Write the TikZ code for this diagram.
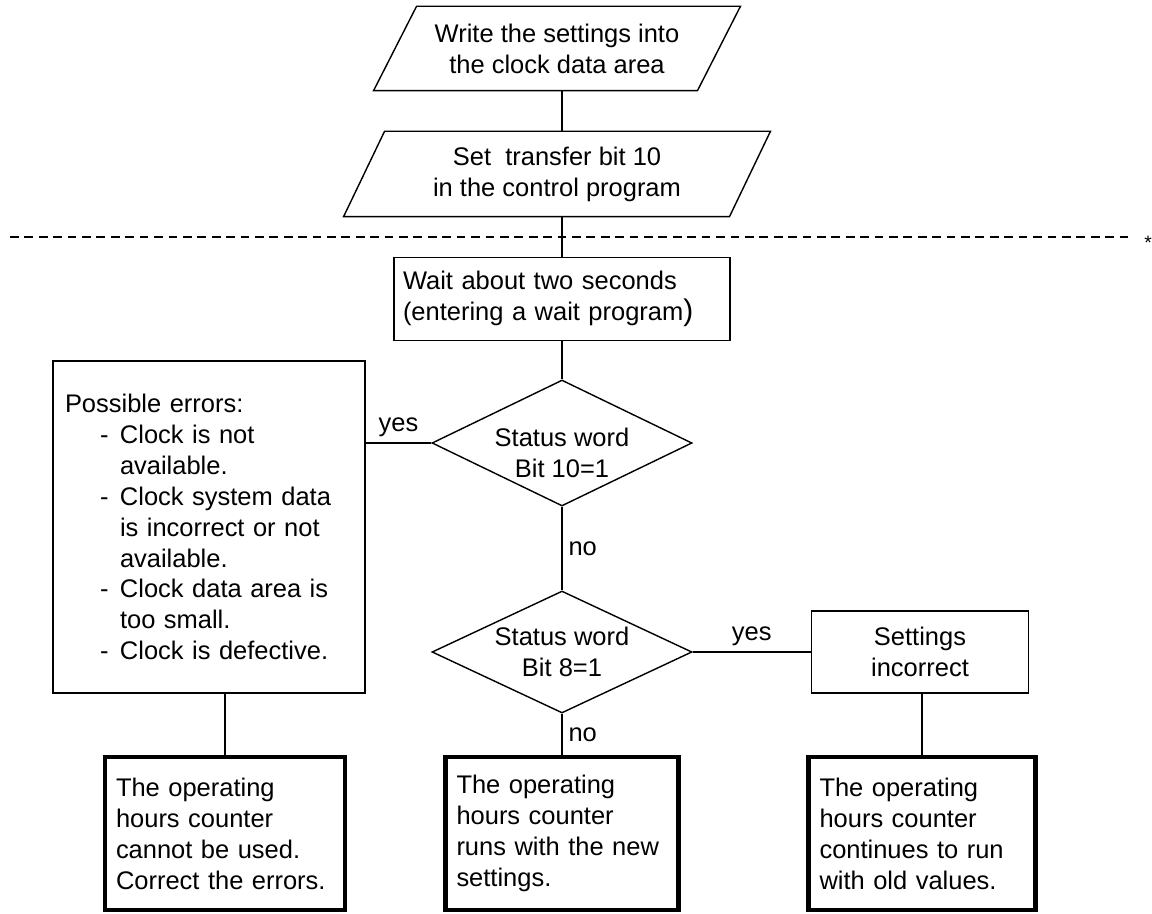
\documentclass[tikz,border=0pt]{standalone}
\usepackage{fontspec}
\setmainfont{Liberation Sans}
\usepackage{tikz}
\usetikzlibrary{shapes.geometric}
\tikzset{
  io/.style={rectangle, align=center, inner sep=0pt},
  proc/.style={rectangle, draw, inner sep=0pt},
  decide/.style={diamond, draw, aspect=2, inner sep=0pt, align=center, minimum width=5.2cm},
  result/.style={rectangle, draw, line width=2.3pt, align=left, inner xsep=0.22cm, minimum height=3.06cm}
}
\newcommand{\errdash}{\hspace*{0.7cm}\makebox[0.4cm][l]{-}}
\newcommand{\errgap}{\hspace*{1.1cm}}
\newcommand{\slantframe}[2]{\draw ([xshift=-#2]#1.south west) -- ([xshift=#2]#1.north west) -- ([xshift=#2]#1.north east) -- ([xshift=-#2]#1.south east) -- cycle;}

\begin{document}
\begin{tikzpicture}[line width=0.8pt, font=\fontsize{14.5}{17.6}\selectfont]
  \useasboundingbox (0,0) rectangle (23.04,18.26);
  \node[io, minimum width=6.45cm, minimum height=1.66cm] (write) at (11.14,17.29) {Write the settings into\\the clock data area};
  \slantframe{write}{0.43cm}
  \node[io, minimum width=7.69cm, minimum height=1.68cm] (transfer) at (11.14,14.78) {Set~~transfer bit 10\\in the control program};
  \slantframe{transfer}{0.41cm}
  \draw[dash pattern=on 5pt off 3.2pt, line width=1pt] (0.2,13.52) -- (22.64,13.52);
  \node[font=\fontsize{11}{11}\selectfont] (star) at (22.96,13.4) {*};
  \node[proc, align=left, text width=6.36cm, inner xsep=0.18cm, minimum height=1.66cm] (wait) at (11.24,12.28) {Wait about two seconds\\(entering a wait program{\fontsize{17}{17}\selectfont)}};
  \node[decide, minimum height=2.52cm, label={[align=center, yshift=-0.2cm]center:Status word\\Bit 10=1}] (bit10) at (11.24,9.4) {};
  \node[decide, minimum height=2.44cm] (bit8) at (11.24,5.22) {Status word\\Bit 8=1};
  \node[proc, align=left, text width=5.76cm, inner xsep=0.24cm, minimum height=6.64cm] (errors) at (4.18,7.72) {Possible errors:\\ \errdash Clock is not\\ \errgap available.\\ \errdash Clock system data\\ \errgap is incorrect or not\\ \errgap available.\\ \errdash Clock data area is\\ \errgap too small.\\ \errdash Clock is defective.};
  \node[proc, align=center, minimum width=4.34cm, minimum height=1.64cm] (wrong) at (18.4,5.22) {Settings\\incorrect};
  \node[result, text width=4.36cm] (unusable) at (4.5,1.59) {The operating\\hours counter\\cannot be used.\\Correct the errors.};
  \node[result, text width=4.22cm] (newset) at (11.24,1.59) {The operating\\hours counter\\runs with the new\\settings.};
  \node[result, text width=4.10cm] (oldval) at (18.44,1.59) {The operating\\hours counter\\continues to run\\with old values.};
  \draw (write.south -| wait.north) -- (transfer.north -| wait.north);
  \draw (transfer.south -| wait.north) -- (wait.north);
  \draw (wait.south) -- (bit10.north);
  \draw (bit10.west) -- (bit10.west -| errors.east) node[midway,above]{yes};
  \draw (bit10.south) -- (bit8.north) node[midway,right]{no};
  \draw (bit8.east) -- (wrong.west) node[midway,above]{yes};
  \draw (bit8.south) -- (newset.north) node[midway,right]{no};
  \draw (errors.south -| unusable.north) -- (unusable.north);
  \draw (wrong.south -| oldval.north) -- (oldval.north);
\end{tikzpicture}
\end{document}
